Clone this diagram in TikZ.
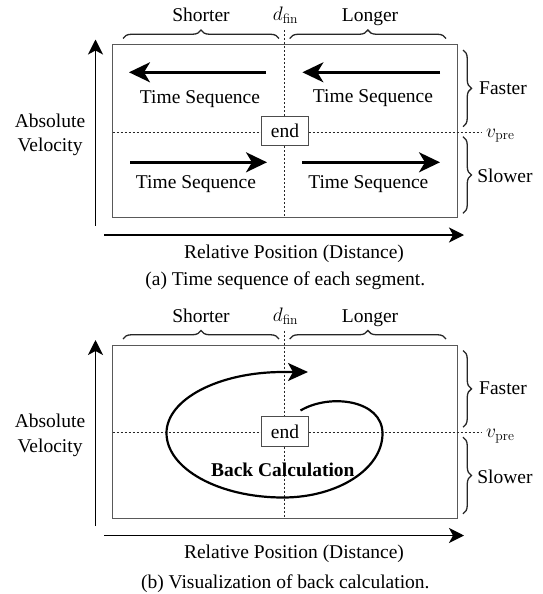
\RequirePackage{fix-cm}
\documentclass[tikz,border=0pt]{standalone}
\usepackage[no-math]{fontspec}
\setmainfont{Liberation Serif}
\usetikzlibrary{arrows.meta,decorations.pathreplacing}

\newcommand\drawpanel[1]{%
  % top labels and braces
  \node[txt] (short#1) at (201,22) {Shorter};
  \node[txt] (dfin#1) at (285.5,21) {$d_{\mathrm{fin}}$};
  \node[txt] (long#1) at (370,22) {Longer};
  \draw[curly] (123,38.5) -- (279,38.5);
  \draw[curly] (289.7,38.5) -- (446,38.5);
  % frame
  \draw[frame] (112.7,45) rectangle (457.5,217.5);
  % guide lines
  \coordinate (vt#1) at (284.7,30);
  \coordinate (vb#1) at (284.7,217.5);
  \coordinate (hl#1) at (112.7,132);
  \coordinate (hr#1) at (481,132);
  \draw[guide] (vt#1) -- (vb#1);
  \draw[guide] (hl#1) -- (hr#1);
  \node[endbox] (end#1) at (285,131) {end};
  \node[txt,anchor=base west] (vpre#1) at (486,137) {$v_{\mathrm{pre}}$};
  % right braces
  \draw[curly] (463,50) -- (463,126.7);
  \draw[curly] (463,136.7) -- (463,213.3);
  \node[txt] (fast#1) at (503,94.2) {Faster};
  \node[txt] (slow#1) at (505,182.5) {Slower};
  % axes
  \coordinate (yo#1) at (95.5,225.7);
  \coordinate (yt#1) at (95.5,39.5);
  \coordinate (xo#1) at (104,235);
  \coordinate (xt#1) at (464,235);
  \draw[axis] (yo#1) -- (yt#1);
  \draw[axis] (xo#1) -- (xt#1);
  \node[txt,align=center,anchor=center] (vel#1) at (50,135) {Absolute\\Velocity};
  \node[txt] (pos#1) at (294,258.2) {Relative Position (Distance)};
}

\begin{document}
\begin{tikzpicture}[x=1pt,y=-1pt,
  txt/.style={font=\fontsize{19.5}{24.5}\selectfont, inner sep=0pt, anchor=base},
  frame/.style={draw=black!65, line width=1pt},
  guide/.style={draw=black!85, line width=0.7pt, dash pattern=on 2.2pt off 1.8pt},
  axis/.style={line width=1.5pt, -{Stealth[length=15pt,width=15pt,inset=4pt]}},
  seqarrow/.style={line width=2.5pt, -{Stealth[length=21pt,width=20pt,inset=6pt]}},
  curly/.style={decorate, decoration={brace, amplitude=8.5pt}, line width=1.3pt, draw=black!85},
  endbox/.style={draw=black!70, line width=1pt, fill=white, minimum width=47pt,
    minimum height=29.5pt, inner sep=0pt, font=\fontsize{19.5}{24.5}\selectfont},
  spiral/.style={line width=2.2pt, -{Stealth[length=20pt,width=18pt,inset=5pt]}},
]
\useasboundingbox (0,0) rectangle (542,594);

% ---------------- panel (a)
\drawpanel{A}
\coordinate (a1s) at (266,72.3);  \coordinate (a1e) at (129,72.3);
\coordinate (a2s) at (440,72.3);  \coordinate (a2e) at (302.4,72.3);
\coordinate (a3s) at (130,162.3); \coordinate (a3e) at (267,162.3);
\coordinate (a4s) at (302.4,162.3); \coordinate (a4e) at (440,162.3);
\draw[seqarrow] (a1s) -- (a1e);
\draw[seqarrow] (a2s) -- (a2e);
\draw[seqarrow] (a3s) -- (a3e);
\draw[seqarrow] (a4s) -- (a4e);
\node[txt] (ts1) at (200,103) {Time Sequence};
\node[txt] (ts2) at (373,102.5) {Time Sequence};
\node[txt] (ts3) at (196,188.8) {Time Sequence};
\node[txt] (ts4) at (368.3,188.8) {Time Sequence};
\node[txt] (capA) at (285.3,285.8) {(a) Time sequence of each segment.};

% ---------------- panel (b)
\begin{scope}[shift={(0,300.5)}]
\drawpanel{B}
\end{scope}
\node[txt,font=\fontsize{19.5}{24.5}\selectfont\bfseries] (back) at (282.8,476.5) {Back Calculation};
\coordinate (sS) at (300.5,410.5);
\coordinate (sR) at (382.5,433.5);
\coordinate (sB) at (283,497.5);
\coordinate (sL) at (166.5,433);
\coordinate (sT) at (283,372);
\coordinate (sE) at (308,372);
\draw[spiral] (sS) .. controls (330,393) and (382.5,400) .. (sR)
  .. controls (382.5,468.8) and (338,497.5) .. (sB)
  .. controls (218.7,497.5) and (166.5,468.6) .. (sL)
  .. controls (166.5,399.3) and (218.7,372) .. (sT)
  -- (sE);
\node[txt] (capB) at (285.3,588) {(b) Visualization of back calculation.};
\end{tikzpicture}
\end{document}
